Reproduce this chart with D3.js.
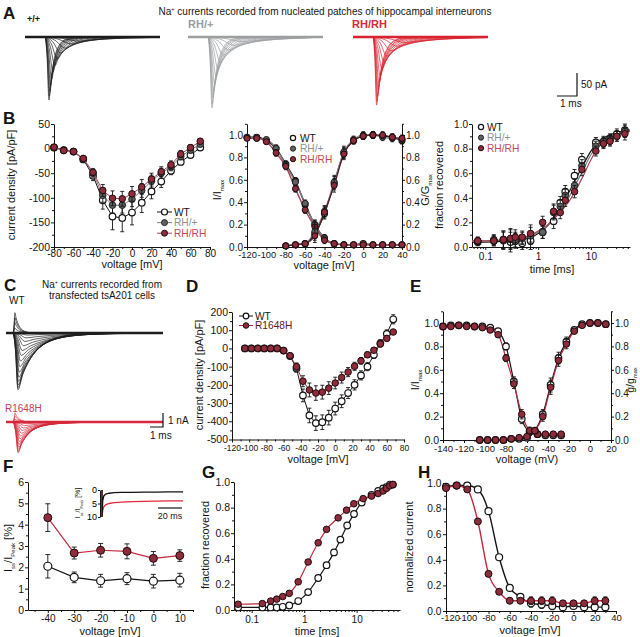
<!DOCTYPE html>
<html><head><meta charset="utf-8">
<script src="https://cdn.jsdelivr.net/npm/d3@7/dist/d3.min.js"></script>
<style>html,body{margin:0;padding:0;background:#fff;} svg{display:block;}</style>
</head><body>
<script>
// ================= DATA =================
// Panel A – Na+ current families from nucleated patches (amplitude pA, time to peak after onset ms, decay ms)
const aOnset = 1.0, aEnd = 6.75;
const aWTAmp  = [-137,-128,-118,-106,-92,-76,-62,-48,-35,-24,-15,-9];
const aWTTpk  = [0.2,0.22,0.25,0.28,0.33,0.4,0.5,0.62,0.78,1.0,1.3,1.7];
const aWTTau  = [0.25,0.27,0.3,0.33,0.38,0.45,0.55,0.7,0.9,1.1,1.4,1.8];
const aHetAmp = [-154,-145,-132,-118,-102,-86,-70,-55,-40,-28,-18,-10];
const aHetTpk = [0.2,0.22,0.25,0.28,0.33,0.4,0.5,0.62,0.78,1.0,1.3,1.7];
const aHetTau = [0.3,0.33,0.37,0.42,0.5,0.6,0.72,0.9,1.1,1.4,1.7,2.1];
const aHomAmp = [-148,-140,-128,-115,-100,-85,-70,-55,-42,-30,-20,-12];
const aHomTpk = [0.18,0.2,0.23,0.26,0.3,0.36,0.45,0.56,0.7,0.9,1.2,1.6];
const aHomTau = [0.3,0.32,0.36,0.4,0.46,0.55,0.66,0.8,1.0,1.3,1.6,2.0];
// normalised decay template (multiples of tau, fraction of peak)
const decayK = [0.3,0.7,1.2,2,3,4.5];
const decayF = [0.74,0.5,0.3,0.135,0.05,0.011];

// Panel B left – current density (pA/pF)
const bV = [-80,-70,-60,-50,-40,-30,-20,-10,0,10,20,30,40,50,60,70];
const bWT     = [2,-3,-6,-22,-55,-105,-138,-141,-130,-110,-87,-67,-45,-27,-13,2];
const bWTErr  = [3,3,3,5,10,18,27,28,25,20,15,12,8,6,5,5];
const bHet    = [2,-3,-6,-21,-50,-95,-115,-115,-103,-85,-66,-50,-37,-16,-3,9];
const bHetErr = [3,3,3,5,8,14,16,16,15,14,12,10,8,7,6,5];
const bHom    = [3,-4,-6,-20,-48,-85,-101,-102,-92,-78,-62,-47,-33,-11,2,15];
const bHomErr = [2,3,3,5,7,12,15,15,15,15,12,10,8,7,6,5];

// Panel B middle – steady-state inactivation (I/Imax) and activation (G/Gmax)
const bInV = [-120,-110,-100,-90,-80,-70,-60,-50,-40,-30,-20,-10,0,10,20,30,40];
const bInWT  = [0.98,0.98,0.95,0.88,0.74,0.59,0.38,0.2,0.08,0.03,0.02,0.02,0.03,0.02,0.02,0.02,0.02];
const bInHet = [0.98,0.97,0.96,0.88,0.73,0.58,0.39,0.2,0.08,0.03,0.02,0.02,0.02,0.02,0.02,0.02,0.02];
const bInHom = [0.97,0.97,0.94,0.84,0.72,0.52,0.33,0.18,0.06,0.03,0.02,0.02,0.02,0.02,0.02,0.02,0.02];
const bInErr = [0.02,0.02,0.02,0.03,0.03,0.03,0.03,0.04,0.03,0.02,0.02,0.02,0.02,0.02,0.02,0.02,0.02];
const bAcV = [-80,-70,-60,-50,-40,-30,-20,-10,0,10,20,30,40];
const bAcWT  = [0.01,0.02,0.03,0.12,0.3,0.57,0.84,0.95,0.99,1.0,0.99,0.98,0.95];
const bAcHet = [0.01,0.02,0.03,0.14,0.32,0.58,0.85,0.96,1.0,1.0,0.98,0.97,0.96];
const bAcHom = [0.01,0.02,0.03,0.10,0.31,0.55,0.83,0.95,0.99,1.0,1.0,0.98,0.97];
const bAcErr = [0.01,0.01,0.02,0.06,0.05,0.06,0.05,0.03,0.03,0.03,0.03,0.03,0.03];

// Panel B right – recovery from inactivation
const bRecT   = [0.072,0.145,0.22,0.3,0.37,0.5,0.72,1.22,1.97,2.63,3.27,4.9,6.75,12.4,17.3,23,31,44];
const bRecWT  = [0.04,0.05,0.06,0.04,0.05,0.03,0.05,0.12,0.21,0.36,0.45,0.58,0.71,0.85,0.85,0.88,0.92,0.95];
const bRecHet = [0.05,0.06,0.05,0.06,0.06,0.07,0.09,0.12,0.28,0.33,0.42,0.5,0.66,0.82,0.86,0.87,0.9,0.94];
const bRecHom = [0.05,0.05,0.06,0.07,0.08,0.08,0.11,0.2,0.29,0.28,0.38,0.45,0.63,0.78,0.84,0.86,0.9,0.92];
const bRecErr = [0.03,0.04,0.07,0.08,0.06,0.05,0.07,0.05,0.06,0.05,0.05,0.05,0.05,0.04,0.04,0.04,0.04,0.05];
const bFitT   = [0.056,0.1,0.2,0.35,0.5,0.75,1,1.5,2,3,4,5,7,10,15,20,30,55];
const bFitWT  = [0.04,0.04,0.045,0.05,0.06,0.08,0.11,0.17,0.24,0.36,0.46,0.54,0.66,0.78,0.87,0.9,0.93,0.95];
const bFitHet = [0.05,0.05,0.055,0.06,0.07,0.09,0.12,0.17,0.23,0.33,0.42,0.5,0.62,0.75,0.85,0.89,0.92,0.95];
const bFitHom = [0.05,0.05,0.055,0.06,0.075,0.1,0.13,0.18,0.23,0.31,0.38,0.45,0.57,0.71,0.83,0.88,0.91,0.94];

// Panel C – tsA201 current families (nA)
const cOnset = 0.53, cEnd = 12;
const cWTAmp = [-4.05,-3.9,-3.7,-3.45,-3.15,-2.8,-2.4,-2.0,-1.6,-1.25,-0.9,-0.6,-0.35,-0.15,0.35,0.75,1.1,1.45];
const cWTTpk = [0.38,0.38,0.4,0.42,0.45,0.48,0.52,0.57,0.63,0.7,0.8,0.9,1.0,1.1,0.15,0.15,0.15,0.15];
const cWTTau = [1.2,1.25,1.3,1.35,1.4,1.5,1.6,1.75,1.9,2.1,2.3,2.5,2.7,2.9,0.3,0.3,0.3,0.3];
const cRHAmp = [-2.2,-2.1,-1.95,-1.8,-1.6,-1.4,-1.2,-1.0,-0.8,-0.6,-0.42,-0.26,-0.12,0.2,0.42,0.65];
const cRHTpk = [0.4,0.4,0.42,0.44,0.46,0.5,0.54,0.58,0.64,0.7,0.8,0.9,1.0,0.15,0.15,0.15];
const cRHTau = [0.8,0.85,0.9,0.95,1.0,1.1,1.2,1.3,1.45,1.6,1.8,2.0,2.2,0.3,0.3,0.3];

// Panel D – current density (pA/pF)
const dV  = [-105,-97.5,-90,-82.5,-75,-67.5,-60,-52.5,-45,-37.5,-30,-22.5,-15,-7.5,0,7.5,15,22.5,30,37.5,45,52.5,60,67.5];
const dWT    = [0,0,0,0,0,0,-12,-42,-110,-258,-368,-410,-405,-380,-330,-290,-245,-200,-148,-100,-35,28,80,160];
const dWTErr = [3,3,3,3,3,3,5,10,20,35,40,40,40,40,35,35,30,28,25,22,20,20,22,25];
const dRH    = [0,0,0,0,0,0,-12,-40,-100,-180,-228,-245,-240,-218,-190,-160,-130,-98,-68,-35,-10,25,55,90];
const dRHErr = [3,3,3,3,3,3,5,10,20,30,38,40,38,35,32,30,25,22,18,15,12,12,12,12];

// Panel E – inactivation (I/Imax) and activation (g/gmax)
const eInV  = [-140,-132.5,-125,-117.5,-110,-102.5,-95,-87.5,-80,-72.5,-65,-57.5,-50,-42.5,-35,-27.5];
const eInWT = [0.97,0.98,0.98,0.98,0.97,0.97,0.96,0.93,0.8,0.5,0.18,0.07,0.05,0.04,0.04,0.04];
const eInRH = [0.97,0.97,0.98,0.97,0.97,0.96,0.94,0.9,0.7,0.48,0.22,0.08,0.05,0.05,0.05,0.05];
const eInErr= [0.02,0.02,0.02,0.02,0.02,0.02,0.02,0.02,0.03,0.04,0.04,0.03,0.02,0.02,0.02,0.02];
const eAcV  = [-105,-97.5,-90,-82.5,-75,-67.5,-60,-52.5,-45,-37.5,-30,-22.5,-15,-7.5,0,7.5,15];
const eAcWT = [0,0,0,0,0.01,0.01,0.02,0.08,0.22,0.47,0.7,0.84,0.94,0.99,1.0,1.0,0.99];
const eAcRH = [0,0,0,0,0.01,0.02,0.03,0.08,0.2,0.45,0.68,0.82,0.93,0.98,1.0,1.0,0.99];
const eAcErr= [0.01,0.01,0.01,0.01,0.01,0.01,0.01,0.02,0.04,0.06,0.05,0.04,0.02,0.02,0.02,0.02,0.02];

// Panel F – persistent current (% of peak)
const fV = [-40,-30,-20,-10,0,10];
const fWT = [2.05,1.53,1.37,1.47,1.35,1.4];
const fWTErr = [0.55,0.25,0.3,0.28,0.32,0.32];
const fRH = [4.33,2.67,2.8,2.75,2.42,2.55];
const fRHErr = [0.65,0.28,0.32,0.35,0.32,0.27];
// inset traces (ms, %)
const insT  = [0,0.01,0.6,1.5,3,6,10,16,25,35,45,55,67];
const insWT = [0,10,4,2.2,1.5,1.2,1.0,0.9,0.85,0.8,0.75,0.7,0.7];
const insRH = [0,10,7.5,6.2,5.5,5.0,4.7,4.5,4.3,4.2,4.1,4.0,4.0];

// Panel G – recovery from inactivation
const gTRH = [0.055,0.16,0.23,0.3,0.39,0.52,0.77,1.19,1.85,2.67,4.44,6.42,8.84,13.3,19.2,25.7,32,37,43,49];
const gRH  = [0.045,0.05,0.07,0.085,0.105,0.13,0.22,0.375,0.525,0.63,0.72,0.78,0.83,0.87,0.89,0.91,0.93,0.95,0.97,0.98];
const gTWT = [0.055,0.16,0.23,0.3,0.39,0.52,0.77,1.19,1.85,2.67,3.7,4.9,6.6,8.9,12.5,19.2,25.7,32,37,43,49];
const gWT  = [0.02,0.02,0.02,0.02,0.025,0.035,0.07,0.14,0.25,0.35,0.45,0.55,0.66,0.75,0.84,0.9,0.93,0.95,0.96,0.98,0.98];

// Panel H – steady-state inactivation (normalized current)
const hV  = [-120,-110,-100,-90,-80,-70,-60,-50,-40,-30,-20,-10,0,10,20,30];
const hWT = [0.97,0.98,0.98,0.95,0.78,0.42,0.18,0.11,0.06,0.05,0.04,0.03,0.04,0.03,0.03,0.03];
const hRH = [0.96,0.98,0.95,0.7,0.29,0.15,0.08,0.08,0.08,0.08,0.08,0.06,0.06,0.06,0.08,0.08];
const hErr= [0.02,0.01,0.01,0.02,0.02,0.02,0.02,0.02,0.03,0.03,0.03,0.02,0.02,0.02,0.03,0.03];

// ================= DRAWING =================
const FONT = 'Arial, "Liberation Sans", Helvetica, sans-serif';
const INK = "#141414", GRAY_T = "#8e9193", GRAY_L = "#7c7f81", GRAY_F = "#5f6163";
const MAROON = "#8d2c3b", RED_L = "#c2283e", PINK_T = "#c2485d", HOM_L = "#a8465a";
const svg = d3.select("body").append("svg").attr("width",640).attr("height",637).attr("font-family",FONT);

function txt(x,y,s,o={}) {
  const t = svg.append("text").attr("x",x).attr("y",y).text(s)
    .attr("font-size",o.fs||11).attr("fill",o.fill||INK).attr("text-anchor",o.anchor||"start");
  if (o.bold) t.attr("font-weight","bold");
  return t;
}
function rich(x,y,parts,o={}) {
  const fs=o.fs||11;
  const t = svg.append("text").attr("font-size",fs).attr("fill",o.fill||INK).attr("text-anchor",o.anchor||"middle");
  if (o.rot) t.attr("transform",`translate(${x},${y}) rotate(-90)`); else t.attr("x",x).attr("y",y);
  let cur=0;
  parts.forEach(([s,k])=>{
    const off = k==="sub" ? (o.sub||3) : k==="sup" ? -(o.sup||4) : 0;
    const sp = t.append("tspan").text(s).attr("dy",off-cur);
    if (k!=="n") sp.attr("font-size",fs*(o.small||0.55));
    cur=off;
  });
  return t;
}
function addAxis(orient, scale, pos, major, minor, fmt, fs=10, pad=1) {
  const mk = orient==="b"?d3.axisBottom: orient==="l"?d3.axisLeft: d3.axisRight;
  const tr = orient==="b" ? `translate(0,${pos})` : `translate(${pos},0)`;
  if (minor) svg.append("g").attr("transform",tr)
      .call(mk(scale).tickValues(minor).tickFormat("").tickSize(2).tickSizeOuter(0))
      .call(g=>g.select(".domain").remove()).selectAll("line").attr("stroke",INK);
  const g = svg.append("g").attr("transform",tr)
      .call(mk(scale).tickValues(major).tickFormat(fmt).tickSize(3).tickSizeOuter(0).tickPadding(pad));
  g.attr("font-family",FONT).attr("font-size",fs);
  g.selectAll("text").attr("fill",INK);
  g.selectAll("line,path").attr("stroke",INK).attr("stroke-width",1);
  return g;
}
const fI = d=>String(d), f1 = d=>d.toFixed(1);
const range = (a,b,s)=>d3.range(a,b+s/2,s);

function series(x,y,xs,ys,es,o) {
  const pts = xs.map((v,i)=>[v,ys[i],es?es[i]:0]);
  if (o.line) svg.append("path").attr("d", d3.line().x(d=>x(d[0])).y(d=>y(d[1])).curve(o.curve||d3.curveLinear)(pts))
      .attr("fill","none").attr("stroke",o.line).attr("stroke-width",o.lw||1);
  if (es) {
    const g = svg.append("g").attr("stroke",o.ec||INK).attr("stroke-width",o.ew||0.9);
    const cap=o.cap||2;
    pts.forEach(d=>{
      if (!d[2]) return;
      const px=x(d[0]), yt=y(d[1]+d[2]), yb=y(d[1]-d[2]);
      g.append("line").attr("x1",px).attr("x2",px).attr("y1",yt).attr("y2",yb);
      g.append("line").attr("x1",px-cap).attr("x2",px+cap).attr("y1",yt).attr("y2",yt);
      g.append("line").attr("x1",px-cap).attr("x2",px+cap).attr("y1",yb).attr("y2",yb);
    });
  }
  if (o.r) svg.append("g").selectAll("circle").data(pts).join("circle")
      .attr("cx",d=>x(d[0])).attr("cy",d=>y(d[1])).attr("r",o.r)
      .attr("fill",o.fill).attr("stroke",o.stroke||INK).attr("stroke-width",o.sw||1);
}
function fitLine(x,y,xs,ys,color,lw,curve) {
  svg.append("path").attr("d", d3.line().x((d,i)=>x(xs[i])).y(d=>y(d)).curve(curve||d3.curveMonotoneX)(ys))
    .attr("fill","none").attr("stroke",color).attr("stroke-width",lw||1.2);
}
function buildTrace(onset, amp, tpk, tau, tEnd) {
  const p = [[0,0],[onset,0],[onset+0.5*tpk,0.3*amp],[onset+tpk,amp]];
  decayK.forEach((k,i)=>{ const t=onset+tpk+k*tau; if (t<tEnd) p.push([t,amp*decayF[i]]); });
  p.push([tEnd,0]);
  return p;
}
function family(x,y,onset,tEnd,amps,tpks,taus,color,lw) {
  const g = svg.append("g").attr("fill","none").attr("stroke",color).attr("stroke-width",lw||0.7);
  amps.forEach((a,i)=>{
    g.append("path").attr("d", d3.line().x(d=>x(d[0])).y(d=>y(d[1])).curve(d3.curveMonotoneX)(buildTrace(onset,a,tpks[i],taus[i],tEnd)));
  });
  g.append("path").attr("d", d3.line().x(d=>x(d[0])).y(d=>y(d[1]))([[0,0],[tEnd,0]])).attr("stroke-width",2.6);
}
const ST = {
  wt:  {fill:"#fff", stroke:INK, sw:1.2},
  het: {fill:GRAY_F, stroke:"#222", sw:1},
  hom: {fill:MAROON, stroke:"#1e0a0e", sw:1},
};
const LEG_FS = 10.2, LEG_DY = 10.6;

// ---------- Panel A ----------
txt(3,19,"A",{fs:17,bold:true});
rich(325,15,[["Na","n"],["+","sup"],[" currents recorded from nucleated patches of hippocampal interneurons","n"]],{fs:10});
txt(27,22,"+/+",{fs:9,bold:true});
txt(188,28,"RH/+",{fs:11,bold:true,fill:"#9a9c9e"});
txt(352,28,"RH/RH",{fs:11,bold:true,fill:"#d42a3c"});
const aY = d3.scaleLinear([0,-50],[37,60]);
family(d3.scaleLinear([0,aEnd],[25,160]),aY,aOnset,aEnd,aWTAmp,aWTTpk,aWTTau,"#1c1c1c");
family(d3.scaleLinear([0,aEnd],[188,323]),aY,aOnset,aEnd,aHetAmp,aHetTpk,aHetTau,"#9c9ea0");
family(d3.scaleLinear([0,aEnd],[353,488]),aY,aOnset,aEnd,aHomAmp,aHomTpk,aHomTau,"#d8232f");
svg.append("path").attr("d","M557,96H577V73").attr("fill","none").attr("stroke",INK).attr("stroke-width",1.2);
txt(581,88,"50 pA",{fs:10});
txt(560,107,"1 ms",{fs:10});

// ---------- Panel B left ----------
txt(3,124,"B",{fs:17,bold:true});
const xB1=d3.scaleLinear([-80,80],[54,210]), yB1=d3.scaleLinear([-200,50],[247,124]);
addAxis("b",xB1,247,range(-80,80,20),range(-70,70,20),fI,10,0);
addAxis("l",yB1,54,range(-200,50,50),range(-175,25,50),fI,10.5);
rich(15,185,[["current density [pA/pF]","n"]],{rot:true,fs:11});
txt(132,268,"voltage [mV]",{fs:11,anchor:"middle"});
series(xB1,yB1,bV,bWT,bWTErr,{line:INK,r:3.3,cap:2,...ST.wt});
series(xB1,yB1,bV,bHet,bHetErr,{line:GRAY_L,r:3.3,cap:2,...ST.het});
series(xB1,yB1,bV,bHom,bHomErr,{line:HOM_L,r:3.3,cap:2,...ST.hom});
[["WT",ST.wt,INK,INK],["RH/+",ST.het,GRAY_L,GRAY_T],["RH/RH",ST.hom,HOM_L,PINK_T]].forEach(([n,s,lc,tc],i)=>{
  const yy=212+i*LEG_DY;
  svg.append("line").attr("x1",157).attr("x2",172).attr("y1",yy).attr("y2",yy).attr("stroke",lc);
  svg.append("circle").attr("cx",164.5).attr("cy",yy).attr("r",3).attr("fill",s.fill).attr("stroke",s.stroke).attr("stroke-width",s.sw);
  txt(174,yy+3.6,n,{fs:LEG_FS,fill:tc});
});

// ---------- Panel B middle ----------
const xB2=d3.scaleLinear([-120,40],[247,402]), yB2=d3.scaleLinear([0,1.1],[247,123.8]);
addAxis("b",xB2,247,range(-120,40,20),range(-110,30,20),fI,9.3,1);
addAxis("l",yB2,247,range(0,1,0.2),range(0.1,1.1,0.2),f1);
addAxis("r",yB2,402,range(0,1,0.2),range(0.1,1.1,0.2),f1);
rich(221,190,[["I/I","n"],["max","sub"]],{rot:true,fs:11});
rich(429,190,[["G/G","n"],["max","sub"]],{rot:true,fs:11});
txt(324,269,"voltage [mV]",{fs:11,anchor:"middle"});
fitLine(xB2,yB2,bInV,bInWT,INK,1.4); fitLine(xB2,yB2,bInV,bInHet,GRAY_L,1.4); fitLine(xB2,yB2,bInV,bInHom,HOM_L,1.4);
fitLine(xB2,yB2,bAcV,bAcWT,INK,1.4); fitLine(xB2,yB2,bAcV,bAcHet,GRAY_L,1.2); fitLine(xB2,yB2,bAcV,bAcHom,"#5a1a26",1.2);
series(xB2,yB2,bInV,bInWT,bInErr,{r:3,cap:1.8,...ST.wt});
series(xB2,yB2,bInV,bInHet,bInErr,{r:3,cap:1.8,...ST.het});
series(xB2,yB2,bInV,bInHom,bInErr,{r:3,cap:1.8,...ST.hom});
series(xB2,yB2,bAcV,bAcWT,bAcErr,{r:3,cap:1.8,...ST.wt});
series(xB2,yB2,bAcV,bAcHet,bAcErr,{r:3,cap:1.8,...ST.het});
series(xB2,yB2,bAcV,bAcHom,bAcErr,{r:3,cap:1.8,...ST.hom});
[["WT",ST.wt,INK],["RH/+",ST.het,GRAY_T],["RH/RH",ST.hom,PINK_T]].forEach(([n,s,tc],i)=>{
  const yy=138+i*LEG_DY;
  svg.append("circle").attr("cx",293).attr("cy",yy).attr("r",2.6).attr("fill",s.fill).attr("stroke",s.stroke).attr("stroke-width",s.sw);
  txt(300,yy+3.6,n,{fs:LEG_FS,fill:tc});
});

// ---------- Panel B right ----------
const xB3=d3.scaleLog([0.056,55],[472,630]), yB3=d3.scaleLinear([0,1],[247,124]);
const logMinor=[0.06,0.07,0.08,0.09,0.2,0.3,0.4,0.5,0.6,0.7,0.8,0.9,2,3,4,5,6,7,8,9,20,30,40,50];
addAxis("b",xB3,247,[0.1,1,10],logMinor,fI,10,2.5);
addAxis("l",yB3,472,range(0,1,0.2),range(0.1,0.9,0.2),f1);
rich(443,185,[["fraction recovered","n"]],{rot:true,fs:11});
txt(552,273,"time [ms]",{fs:11,anchor:"middle"});
fitLine(xB3,yB3,bFitT,bFitWT,INK,1.2); fitLine(xB3,yB3,bFitT,bFitHet,GRAY_L,1.2); fitLine(xB3,yB3,bFitT,bFitHom,HOM_L,1.2);
series(xB3,yB3,bRecT,bRecWT,bRecErr,{r:3.3,cap:2,...ST.wt});
series(xB3,yB3,bRecT,bRecHet,bRecErr,{r:3.3,cap:2,...ST.het});
series(xB3,yB3,bRecT,bRecHom,bRecErr,{r:3.3,cap:2,...ST.hom});
[["WT",ST.wt,INK],["RH/+",ST.het,GRAY_T],["RH/RH",ST.hom,PINK_T]].forEach(([n,s,tc],i)=>{
  const yy=127+i*LEG_DY;
  svg.append("circle").attr("cx",481).attr("cy",yy).attr("r",2.6).attr("fill",s.fill).attr("stroke",s.stroke).attr("stroke-width",s.sw);
  txt(487,yy+3.6,n,{fs:LEG_FS,fill:tc});
});

// ---------- Panel C ----------
txt(4,291,"C",{fs:17,bold:true});
rich(102,288,[["Na","n"],["+","sup"],[" currents recorded from","n"]],{fs:10});
txt(102,299,"transfected tsA201 cells",{fs:10,anchor:"middle"});
txt(9,304,"WT",{fs:10});
const cX=d3.scaleLinear([0,cEnd],[6,163]);
family(cX,d3.scaleLinear([0,-1],[333,347]),cOnset,cEnd,cWTAmp,cWTTpk,cWTTau,"#1e1e1e",0.7);
txt(5,412,"R1648H",{fs:10,fill:"#c4404f"});
family(cX,d3.scaleLinear([0,-1],[422,436]),cOnset,cEnd,cRHAmp,cRHTpk,cRHTau,"#d6283a",0.7);
svg.append("path").attr("d","M150,427H163V413").attr("fill","none").attr("stroke",INK).attr("stroke-width",1.2);
txt(168,424,"1 nA",{fs:10});
txt(150,439,"1 ms",{fs:10});

// ---------- Panel D ----------
txt(186,292,"D",{fs:17,bold:true});
const xD=d3.scaleLinear([-120,80],[232,404]), yD=d3.scaleLinear([-500,200],[439.5,312]);
addAxis("b",xD,439.5,range(-120,80,20),range(-110,70,20),fI,8.5,2.5);
addAxis("l",yD,232,range(-500,200,100),range(-450,150,100),fI,10.5);
rich(203,375,[["current density [pA/pF]","n"]],{rot:true,fs:11});
txt(318,463,"voltage [mV]",{fs:11,anchor:"middle"});
series(xD,yD,dV,dWT,dWTErr,{line:INK,r:3.3,cap:2,...ST.wt});
series(xD,yD,dV,dRH,dRHErr,{line:"#a52c3e",r:3.3,cap:2,...ST.hom});
[["WT",ST.wt,INK],["R1648H",ST.hom,"#a52c3e"]].forEach(([n,s,lc],i)=>{
  const yy=316+i*9.5;
  svg.append("line").attr("x1",239).attr("x2",253).attr("y1",yy).attr("y2",yy).attr("stroke",lc);
  svg.append("circle").attr("cx",246).attr("cy",yy).attr("r",2.8).attr("fill",s.fill).attr("stroke",s.stroke).attr("stroke-width",s.sw);
  txt(255,yy+3.6,n,{fs:10.2,fill:i?"#5a1a24":INK});
});

// ---------- Panel E ----------
txt(410,292,"E",{fs:17,bold:true});
const xE=d3.scaleLinear([-140,20],[443,611]), yE=d3.scaleLinear([0,1.1],[440,311.3]);
addAxis("b",xE,440,range(-140,20,20),range(-130,10,20),fI,9.5,2.5);
addAxis("l",yE,443,range(0,1,0.2),range(0.1,1.1,0.2),f1,10.5);
addAxis("r",yE,611,range(0,1,0.2),range(0.1,1.1,0.2),f1,10);
rich(419,380,[["I/I","n"],["max","sub"]],{rot:true,fs:11});
rich(634,380,[["g/g","n"],["max","sub"]],{rot:true,fs:10.5});
txt(527,463,"voltage (mV)",{fs:11,anchor:"middle"});
fitLine(xE,yE,eInV,eInWT,INK,1.2); fitLine(xE,yE,eInV,eInRH,RED_L,1.2);
fitLine(xE,yE,eAcV,eAcWT,INK,1.2); fitLine(xE,yE,eAcV,eAcRH,RED_L,1.2);
series(xE,yE,eInV,eInWT,eInErr,{r:3.3,cap:2,...ST.wt});
series(xE,yE,eInV,eInRH,eInErr,{r:3.3,cap:2,...ST.hom});
series(xE,yE,eAcV,eAcWT,eAcErr,{r:3.3,cap:2,...ST.wt});
series(xE,yE,eAcV,eAcRH,eAcErr,{r:3.3,cap:2,...ST.hom});

// ---------- Panel F ----------
txt(3,472,"F",{fs:17,bold:true});
const xF=d3.scaleLinear([-47.5,15],[28,193]), yF=d3.scaleLinear([0,6],[610,482]);
addAxis("b",xF,610,range(-40,10,10),range(-45,15,10),fI,10,1.5);
addAxis("l",yF,28,range(0,6,1),range(0.5,5.5,1),fI,10.5);
rich(12,548,[["I","n"],["ss","sub"],["/I","n"],["Peak","sub"],[" [%]","n"]],{rot:true,fs:11});
txt(110,634.5,"voltage [mV]",{fs:11,anchor:"middle"});
series(xF,yF,fV,fRH,fRHErr,{line:RED_L,lw:1.2,r:4,cap:2.5,...ST.hom});
series(xF,yF,fV,fWT,fWTErr,{line:INK,lw:1.2,r:4,cap:2.5,...ST.wt});
// inset
const xIn=d3.scaleLinear([0,67],[102,183]), yIn=d3.scaleLinear([0,10],[490,517]);
svg.append("g").attr("transform","translate(100,0)")
  .call(d3.axisLeft(yIn).tickValues([0,5,10]).tickFormat(fI).tickSize(2).tickSizeOuter(0).tickPadding(1))
  .attr("font-family",FONT).attr("font-size",9).call(g=>g.selectAll("line,path").attr("stroke",INK));
rich(80,503,[["I","n"],["ss","sub"],["/I","n"],["Peak","sub"],[" [%]","n"]],{rot:true,fs:7});
svg.append("path").attr("d",d3.line().x((d,i)=>xIn(insT[i])).y(d=>yIn(d))(insRH)).attr("fill","none").attr("stroke","#e0283a").attr("stroke-width",1.3);
svg.append("path").attr("d",d3.line().x((d,i)=>xIn(insT[i])).y(d=>yIn(d))(insWT)).attr("fill","none").attr("stroke","#111").attr("stroke-width",1.3);
svg.append("line").attr("x1",158).attr("x2",182).attr("y1",508).attr("y2",508).attr("stroke",INK).attr("stroke-width",1.2);
txt(170,519,"20 ms",{fs:9,anchor:"middle"});

// ---------- Panel G ----------
txt(202,478,"G",{fs:17,bold:true});
const xG=d3.scaleLog([0.046,67],[234,400]), yG=d3.scaleLinear([0,1],[610,482]);
addAxis("b",xG,610,[0.1,1,10],[0.05,0.06,0.07,0.08,0.09,0.2,0.3,0.4,0.5,0.6,0.7,0.8,0.9,2,3,4,5,6,7,8,9,20,30,40,50,60],fI,10,2.5);
addAxis("l",yG,234,range(0,1,0.2),range(0.1,0.9,0.2),f1,10.5);
rich(209,545,[["fraction recovered","n"]],{rot:true,fs:11});
txt(317,635,"time [ms]",{fs:11,anchor:"middle"});
series(xG,yG,gTWT,gWT,null,{line:INK,lw:1.2,curve:d3.curveMonotoneX,r:3.3,...ST.wt});
series(xG,yG,gTRH,gRH,null,{line:RED_L,lw:1.2,curve:d3.curveMonotoneX,r:3.3,...ST.hom});

// ---------- Panel H ----------
txt(418,478,"H",{fs:17,bold:true});
const xH=d3.scaleLinear([-120,40],[446,616]), yH=d3.scaleLinear([0,1],[611,483]);
const hx = addAxis("b",xH,611,range(-120,40,20),range(-110,30,20),fI,9.5,0.5);
hx.selectAll(".tick text").filter(d=>d===-120).attr("dx",4);
addAxis("l",yH,446,range(0,1,0.2),range(0.1,0.9,0.2),f1,10.2,1.5);
rich(413,547,[["normalized current","n"]],{rot:true,fs:11});
txt(530,634,"voltage [mV]",{fs:11,anchor:"middle"});
fitLine(xH,yH,hV,hWT,INK,1.4); fitLine(xH,yH,hV,hRH,RED_L,1.4);
series(xH,yH,hV,hWT,hErr,{r:3.5,cap:2,...ST.wt});
series(xH,yH,hV,hRH,hErr,{r:3.5,cap:2,...ST.hom});
</script>
</body></html>
